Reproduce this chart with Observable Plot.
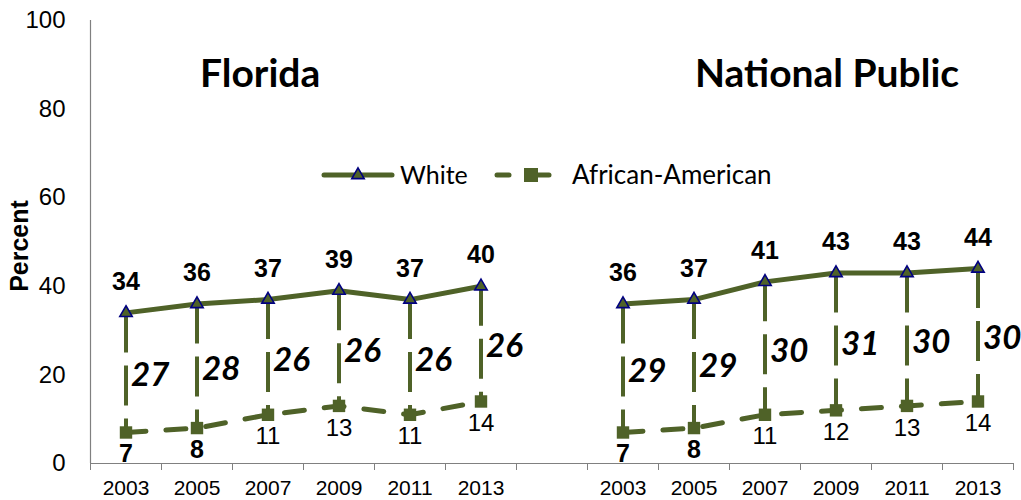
<!DOCTYPE html>
<html>
<head>
<meta charset="utf-8">
<script src="https://cdn.jsdelivr.net/npm/d3@7"></script>
<script src="https://cdn.jsdelivr.net/npm/@observablehq/plot@0.6"></script>
<style>
  html, body { margin: 0; padding: 0; background: #fff; }
  #wrap { position: relative; width: 1021px; height: 500px; }
  #overlay { position: absolute; left: 0; top: 0; pointer-events: none; }
</style>
</head>
<body>
<div id="wrap"></div>
<script>
// ---- data ----
const years = [2003, 2005, 2007, 2009, 2011, 2013];
const groups = ["Florida", "National Public"];
const floridaWhite = [34, 36, 37, 39, 37, 40];
const floridaAA = [7, 8, 11, 13, 11, 14];
const floridaGap = [27, 28, 26, 26, 26, 26];
const nationalWhite = [36, 37, 41, 43, 43, 44];
const nationalAA = [7, 8, 11, 12, 13, 14];
const nationalGap = [29, 29, 30, 31, 30, 30];
const yTicks = [0, 20, 40, 60, 80, 100];
const series = ["White", "African-American"];

const GREEN = "#4F6228";
const NAVY = "#000080";
const AXIS = "#808080";
const CAL = "Lato, 'Open Sans', sans-serif";

const groupData = [
  {white: floridaWhite, aa: floridaAA, gap: floridaGap},
  {white: nationalWhite, aa: nationalAA, gap: nationalGap}
];
const slots = years.length + 1; // one empty slot between groups
const rows = [];
groupData.forEach((g, gi) => {
  years.forEach((yr, i) => {
    rows.push({
      group: groups[gi],
      year: yr,
      pos: gi * slots + i + 0.5,
      white: g.white[i],
      aa: g.aa[i],
      gap: g.gap[i],
      mid: (g.white[i] + g.aa[i]) / 2
    });
  });
});
const totalSlots = slots * groups.length - 1;

const chart = Plot.plot({
  width: 1021,
  height: 500,
  marginLeft: 90,
  marginRight: 8,
  marginTop: 20,
  marginBottom: 37,
  style: {fontFamily: "'Liberation Sans', Arial, sans-serif", color: "#000", background: "#fff", overflow: "visible"},
  x: {type: "linear", domain: [0, totalSlots], axis: null},
  y: {domain: [0, 100], axis: null},
  marks: [
    Plot.axisX({ticks: d3.range(totalSlots + 1), tickSize: 7, tickFormat: () => "", stroke: AXIS, label: null}),
    Plot.text(yTicks, {y: d => d, text: d => String(d), frameAnchor: "left", dx: -25, textAnchor: "end", fontSize: 24, lineAnchor: "middle"}),
    Plot.ruleY([0], {stroke: AXIS, strokeWidth: 1.2}),
    Plot.ruleX([0], {y1: 0, y2: 100, stroke: AXIS, strokeWidth: 1.2}),
    Plot.text(["Percent"], {frameAnchor: "left", dx: -71, dy: 4, rotate: -90, textAnchor: "middle", fontWeight: "bold", fontSize: 25, lineAnchor: "middle"}),
    Plot.text(rows, {x: "pos", y: 0, text: d => String(d.year), dy: 25, fontSize: 21, lineAnchor: "middle"}),
    // gap rules
    Plot.ruleX(rows, {x: "pos", y1: "white", y2: "aa", stroke: GREEN, strokeWidth: 4, strokeDasharray: "40,13"}),
    // series lines
    Plot.line(rows, {x: "pos", y: "white", z: "group", stroke: GREEN, strokeWidth: 5}),
    Plot.line(rows, {x: "pos", y: "aa", z: "group", stroke: GREEN, strokeWidth: 5, strokeDasharray: "20,20", strokeLinecap: "round"}),
    Plot.dot(rows, {x: "pos", y: "white", symbol: "triangle", r: 4.6, fill: GREEN, stroke: NAVY, strokeWidth: 1.6}),
    Plot.dot(rows, {x: "pos", y: "aa", symbol: "square", r: 7, fill: GREEN}),
    // value labels
    Plot.text(rows, {x: "pos", y: "white", text: d => String(d.white), dy: -31, fontSize: 25, fontWeight: "bold", lineAnchor: "middle"}),
    Plot.text(rows.filter(d => d.aa < 10), {x: "pos", y: "aa", text: d => String(d.aa), dy: 22, fontSize: 25, fontWeight: "bold", lineAnchor: "middle"}),
    Plot.text(rows.filter(d => d.aa >= 10), {x: "pos", y: "aa", text: d => String(d.aa), dy: 22, fontSize: 24, lineAnchor: "middle"}),
    // gap labels
    Plot.text(rows, {x: "pos", y: "mid", text: d => String(d.gap), dx: 5, dy: 3, textAnchor: "start", fontSize: 33, fontWeight: "bold", fontStyle: "italic", fontFamily: CAL, lineAnchor: "middle"})
  ]
});
document.getElementById("wrap").appendChild(chart);

// ---- overlay: titles and legend ----
const ov = d3.select("#wrap").append("svg")
  .attr("id", "overlay").attr("width", 1021).attr("height", 500);

const titleX = [200, 695];
groups.forEach((g, i) => {
  ov.append("text").attr("x", titleX[i]).attr("y", 87)
    .attr("font-family", CAL).attr("font-weight", "bold")
    .attr("font-size", 39).attr("fill", "#000").text(g);
});

const ly = 175;
// White legend entry
ov.append("line").attr("x1", 324).attr("x2", 392).attr("y1", ly).attr("y2", ly)
  .attr("stroke", GREEN).attr("stroke-width", 5).attr("stroke-linecap", "round");
ov.append("path").attr("transform", `translate(358,${ly})`)
  .attr("d", d3.symbol(d3.symbolTriangle, Math.PI * 4.6 * 4.6)())
  .attr("fill", GREEN).attr("stroke", NAVY).attr("stroke-width", 1.6);
ov.append("text").attr("x", 400).attr("y", ly).attr("dy", "0.35em")
  .attr("font-family", CAL).attr("font-size", 25).text(series[0]);
// African-American legend entry
ov.append("line").attr("x1", 497).attr("x2", 509).attr("y1", ly).attr("y2", ly)
  .attr("stroke", GREEN).attr("stroke-width", 5).attr("stroke-linecap", "round");
ov.append("line").attr("x1", 535).attr("x2", 549).attr("y1", ly).attr("y2", ly)
  .attr("stroke", GREEN).attr("stroke-width", 5).attr("stroke-linecap", "round");
ov.append("rect").attr("x", 524).attr("y", ly - 7).attr("width", 14).attr("height", 14).attr("fill", GREEN);
ov.append("text").attr("x", 572).attr("y", ly).attr("dy", "0.35em")
  .attr("font-family", CAL).attr("font-size", 26).text(series[1]);
</script>
</body>
</html>
